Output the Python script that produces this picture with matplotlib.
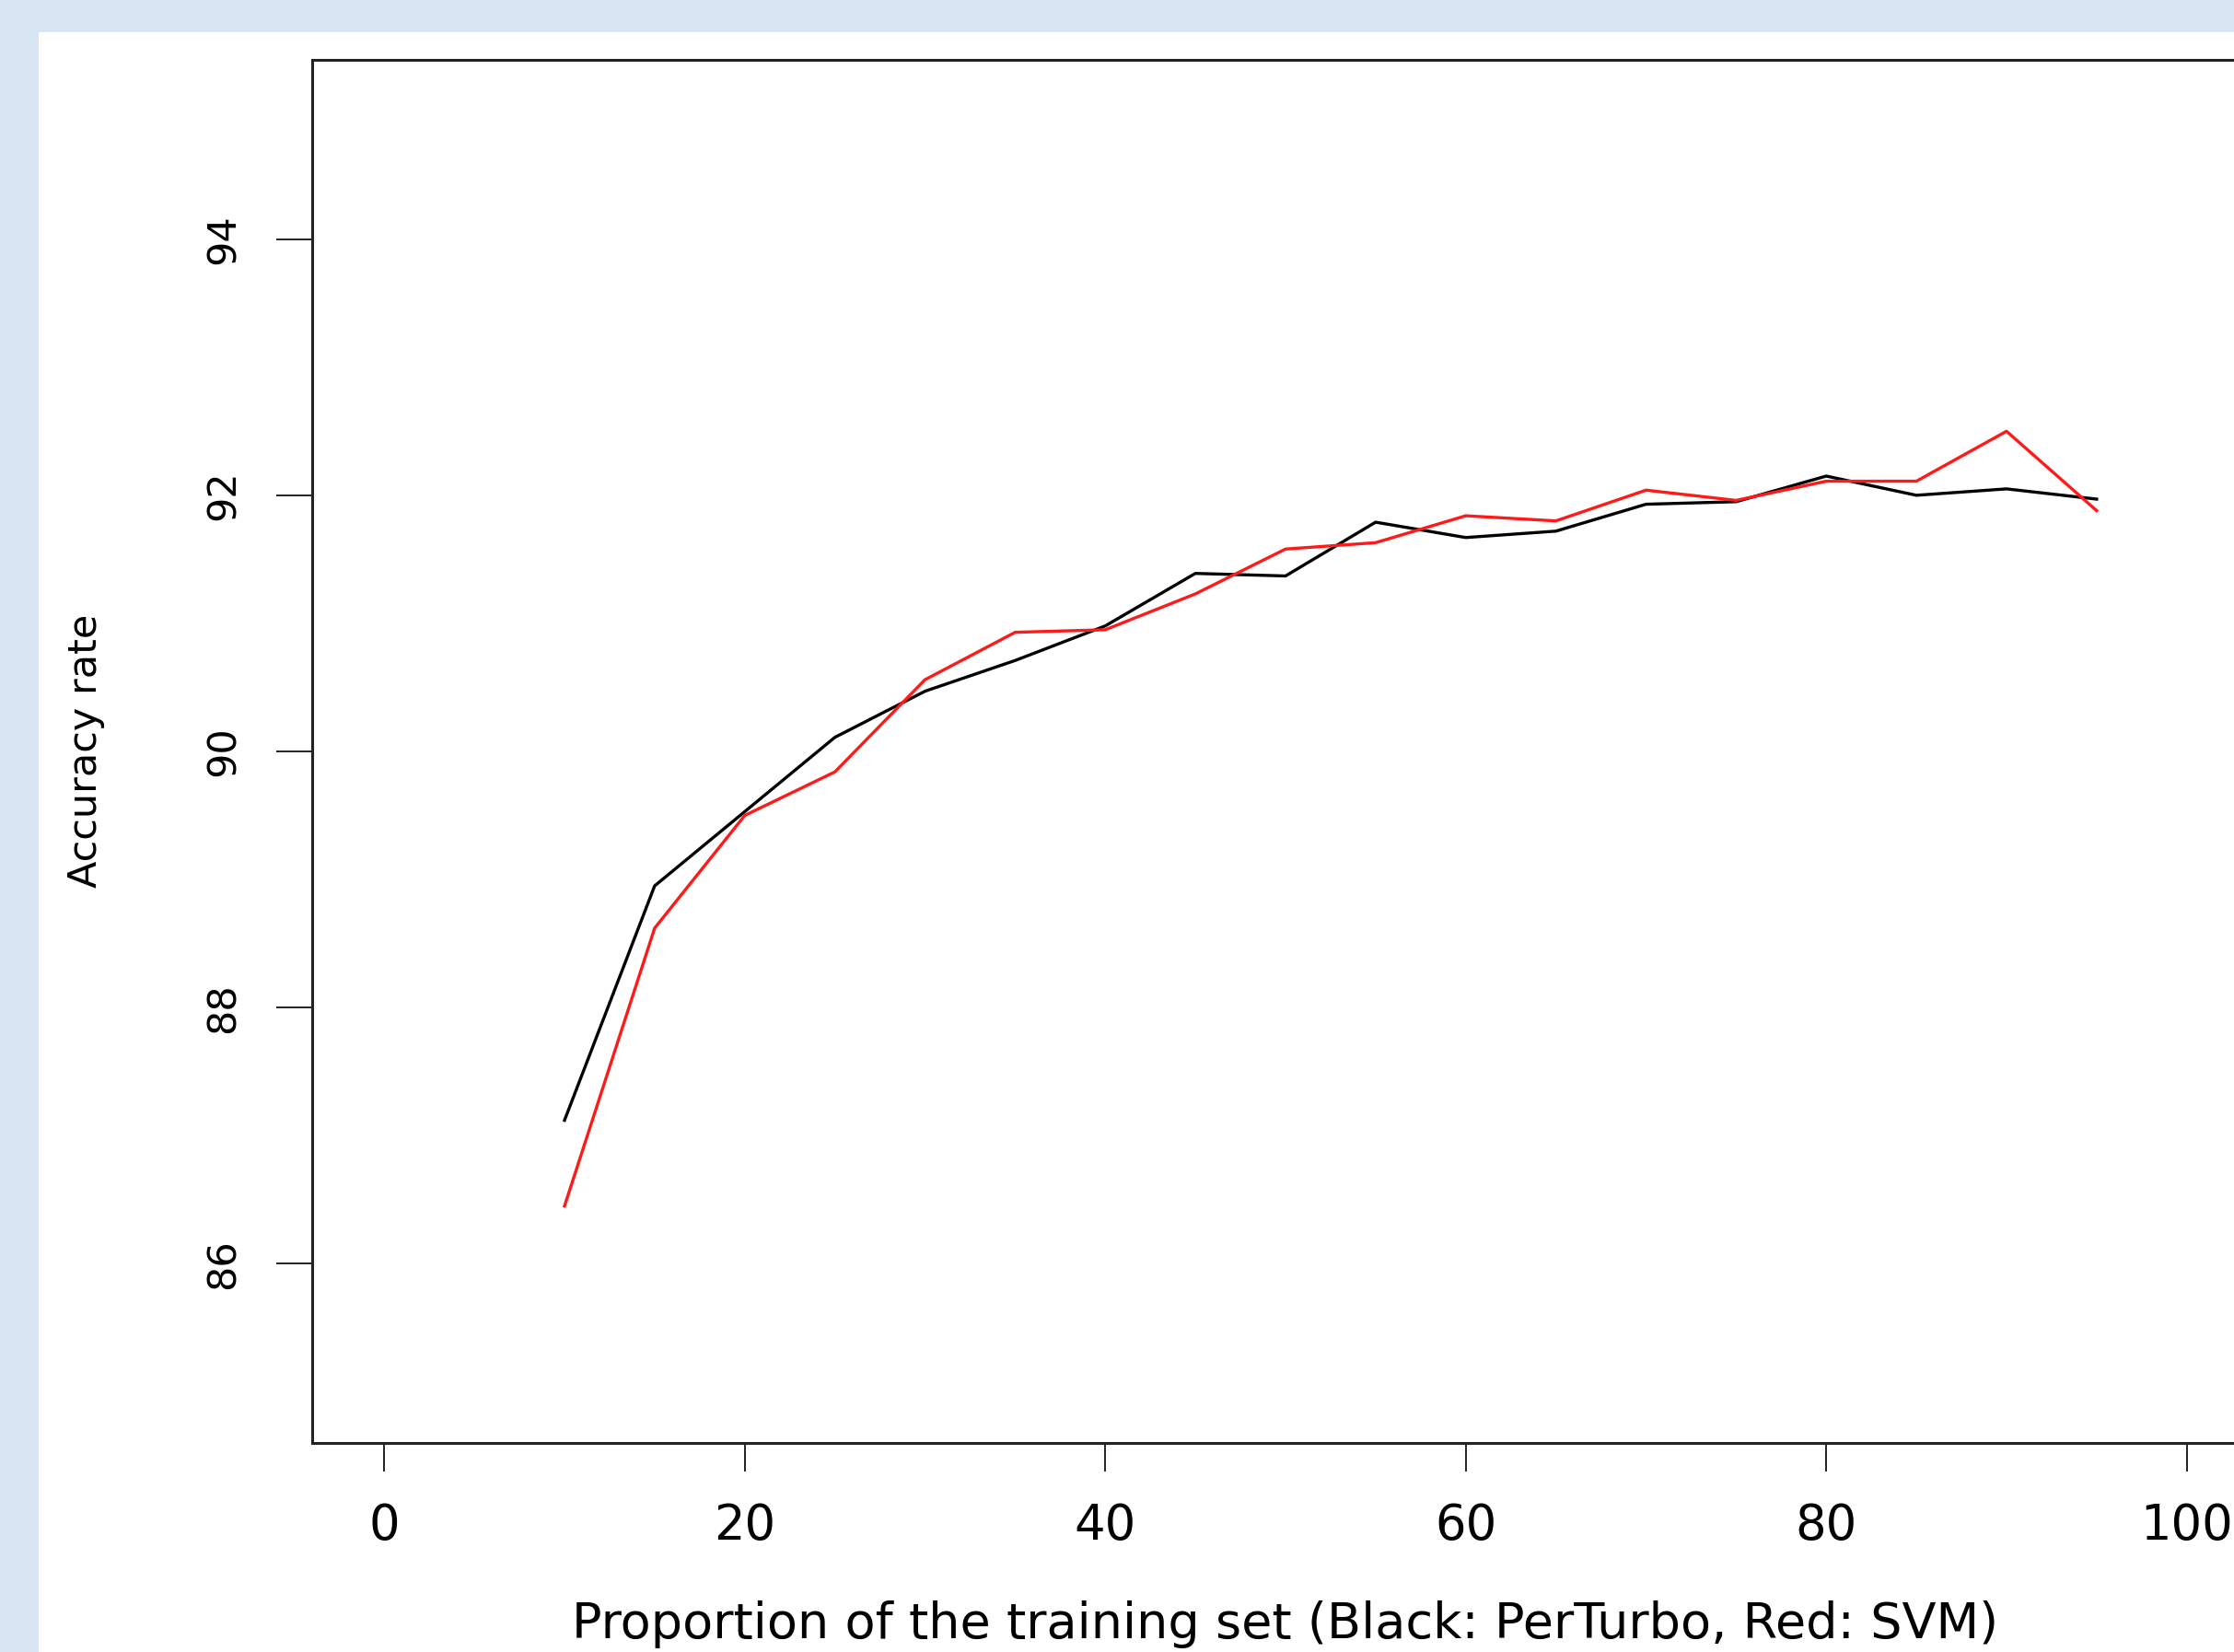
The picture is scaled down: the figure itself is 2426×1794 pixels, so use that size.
import matplotlib
matplotlib.use("Agg")
import matplotlib.pyplot as plt
from matplotlib.patches import Rectangle

# proportion of the training set (%)
proportion = [10, 15, 20, 25, 30, 35, 40, 45, 50, 55, 60, 65, 70, 75, 80, 85, 90, 95]

# accuracy rates
perturbo = [87.12, 88.95, 89.53, 90.11, 90.47, 90.71, 90.98, 91.39, 91.37,
            91.79, 91.67, 91.72, 91.93, 91.95, 92.15, 92.00, 92.05, 91.97]
svm = [86.45, 88.62, 89.50, 89.84, 90.56, 90.93, 90.95, 91.23, 91.58,
       91.63, 91.84, 91.80, 92.04, 91.96, 92.11, 92.11, 92.50, 91.88]

x_ticks = [0, 20, 40, 60, 80, 100]
y_ticks = [86, 88, 90, 92, 94]

x_label = "Proportion of the training set (Black: PerTurbo, Red: SVM)"
y_label = "Accuracy rate"

W, H = 2426, 1794
plt.rcParams['font.family'] = ['DejaVu Sans']

fig = plt.figure(figsize=(W / 100, H / 100), dpi=100)
fig.patch.set_facecolor('#d8e5f2')

# white sheet on the light blue slide background (behind the axes)
fig.patches.append(Rectangle((42 / W, 0), 1, 1 - 35 / H, transform=fig.transFigure,
                             facecolor='white', edgecolor='none', zorder=-10))

ax = fig.add_axes([339 / W, 1 - 1567 / H, (2453 - 339) / W, (1567 - 65) / H])
ax.set_facecolor('white')

ax.plot(proportion, perturbo, color='black', linewidth=2.4, antialiased=True)
ax.plot(proportion, svm, color='#ff1a1a', linewidth=2.4, antialiased=True)

ax.set_xlim(-4, 104)
ax.set_ylim(84.6, 95.4)

for s in ax.spines.values():
    s.set_linewidth(2.2)
    s.set_color('#222222')

ax.set_xticks(x_ticks)
ax.set_xticklabels([str(v) for v in x_ticks], fontsize=38)
ax.set_yticks(y_ticks)
ax.set_yticklabels([str(v) for v in y_ticks], fontsize=31, rotation=90,
                   rotation_mode='anchor', ha='center', va='baseline')

ax.tick_params(axis='x', direction='out', length=22, width=1.4, pad=24, color='#222222')
ax.tick_params(axis='y', direction='out', length=28, width=1.4, pad=33, color='#222222')

fig.text(1396 / W, 1 - 1779 / H, x_label, fontsize=39, ha='center', va='baseline')
fig.text(105 / W, 1 - 815 / H, y_label, fontsize=31, rotation=90,
         rotation_mode='anchor', ha='center', va='baseline')

fig.savefig('out.png', dpi=100, facecolor=fig.get_facecolor())
plt.close(fig)
